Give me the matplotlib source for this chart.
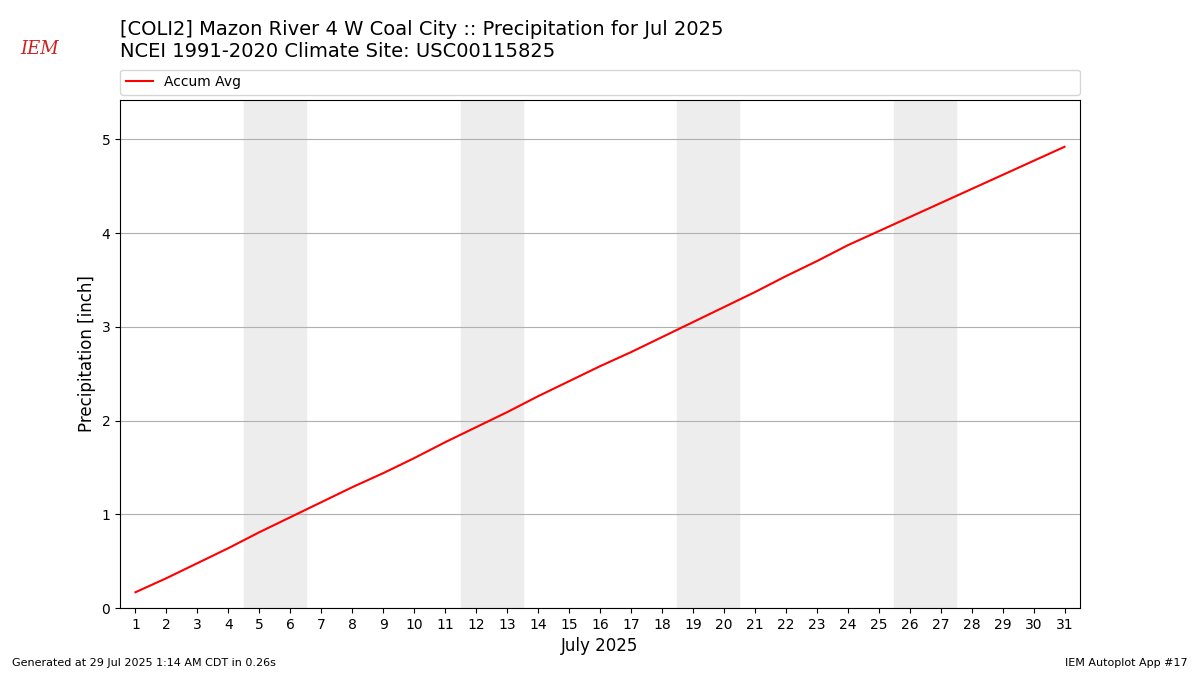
import matplotlib
matplotlib.use("Agg")
import matplotlib.pyplot as plt

days = list(range(1, 32))
accum_avg = [0.17, 0.32, 0.48, 0.64, 0.81, 0.97, 1.13, 1.29, 1.44, 1.60,
             1.77, 1.93, 2.09, 2.26, 2.42, 2.58, 2.73, 2.89, 3.05, 3.21,
             3.37, 3.54, 3.70, 3.87, 4.02, 4.17, 4.32, 4.47, 4.62, 4.77, 4.92]
weekends = [(5, 6), (12, 13), (19, 20), (26, 27)]

fig = plt.figure(figsize=(12, 6.75), dpi=100)
ax = fig.add_axes([0.1, 0.099, 0.8, 0.753])

for a, b in weekends:
    ax.axvspan(a - 0.5, b + 0.5, color="#ededed", zorder=0)

line, = ax.plot(days, accum_avg, color="red", label="Accum Avg")
ax.set_xlim(0.5, 31.5)
ax.set_ylim(0, 5.42)
ax.set_xticks(days)
ax.set_yticks([0, 1, 2, 3, 4, 5])
ax.grid(axis="y", color="#b0b0b0")
ax.set_axisbelow(True)
ax.set_xlabel("July 2025", fontsize=12)
ax.set_ylabel("Precipitation [inch]", fontsize=12)

ax.legend(handles=[line], loc="lower left", bbox_to_anchor=(0, 1.01, 1, 0.05),
          mode="expand", ncol=1, fontsize=10, borderaxespad=0)

fig.text(0.1, 0.957, "[COLI2] Mazon River 4 W Coal City :: Precipitation for Jul 2025",
         fontsize=14, va="center")
fig.text(0.1, 0.924, "NCEI 1991-2020 Climate Site: USC00115825", fontsize=14, va="center")

fig.text(0.017, 0.92, "IEM", color="#cc2222", fontsize=13, family="DejaVu Serif",
         style="italic")

fig.text(0.01, 0.013, "Generated at 29 Jul 2025 1:14 AM CDT in 0.26s", fontsize=8)
fig.text(0.99, 0.013, "IEM Autoplot App #17", fontsize=8, ha="right")

fig.savefig("out.png", dpi=100)
